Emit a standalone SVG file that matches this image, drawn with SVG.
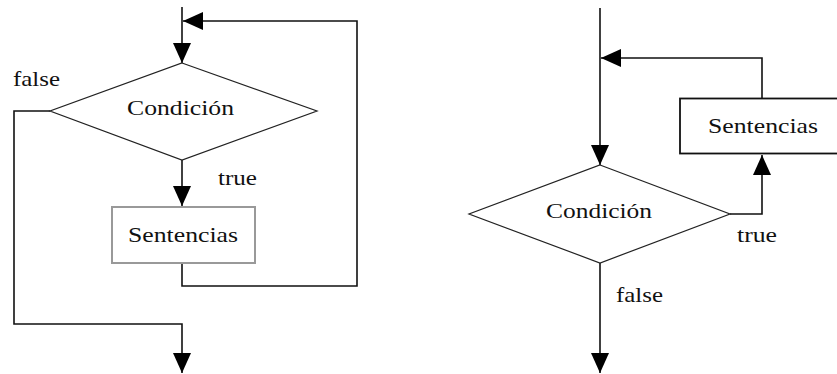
<svg xmlns="http://www.w3.org/2000/svg" width="837" height="374" viewBox="0 0 837 374">
<style>
.ln{fill:none;stroke:#111;stroke-width:1.6}
.dm{fill:#fff;stroke:#222;stroke-width:1.2}
.t{font-family:'Liberation Serif','Times New Roman',serif;font-size:22px;fill:#111}
</style>
<defs>
<marker id="ah" viewBox="0 0 20 18" markerWidth="20" markerHeight="18" refX="20" refY="9" orient="auto" markerUnits="userSpaceOnUse">
<path d="M0,0 L20,9 L0,18 Z" fill="#000"/>
</marker>
</defs>
<rect width="837" height="374" fill="#fff"/>
<g id="connectors">
<path class="ln" d="M182,7 V63" marker-end="url(#ah)"/>
<path class="ln" d="M182,263 V286 H357 V21 H183" marker-end="url(#ah)"/>
<path class="ln" d="M182,160 V206" marker-end="url(#ah)"/>
<path class="ln" d="M50,111 H14 V324 H182 V373" marker-end="url(#ah)"/>
<path class="ln" d="M600,8 V165" marker-end="url(#ah)"/>
<path class="ln" d="M762,98 V58 H601" marker-end="url(#ah)"/>
<path class="ln" d="M730,214 H762 V155" marker-end="url(#ah)"/>
<path class="ln" d="M600,263 V373" marker-end="url(#ah)"/>
</g>
<g id="cond1">
<polygon class="dm" points="182,63 317,111 182,160 50,111"/>
<text class="t" x="127" y="115" textLength="107" lengthAdjust="spacingAndGlyphs">Condición</text>
</g>
<g id="sent1">
<rect x="112" y="207" width="143" height="56" fill="#fff" stroke="#999" stroke-width="2"/>
<text class="t" x="128" y="242" textLength="110" lengthAdjust="spacingAndGlyphs">Sentencias</text>
</g>
<g id="labels1">
<text class="t" x="13" y="86" textLength="47" lengthAdjust="spacingAndGlyphs">false</text>
<text class="t" x="218" y="185" textLength="39" lengthAdjust="spacingAndGlyphs">true</text>
</g>
<g id="sent2">
<rect x="680" y="98.5" width="170" height="55" fill="#fff" stroke="#111" stroke-width="1.8"/>
<text class="t" x="708" y="133" textLength="110" lengthAdjust="spacingAndGlyphs">Sentencias</text>
</g>
<g id="cond2">
<polygon class="dm" points="600,165 730,214 600,263 469,214"/>
<text class="t" x="546" y="218" textLength="106" lengthAdjust="spacingAndGlyphs">Condición</text>
</g>
<g id="labels2">
<text class="t" x="737" y="242" textLength="40" lengthAdjust="spacingAndGlyphs">true</text>
<text class="t" x="616" y="302" textLength="47" lengthAdjust="spacingAndGlyphs">false</text>
</g>
</svg>
